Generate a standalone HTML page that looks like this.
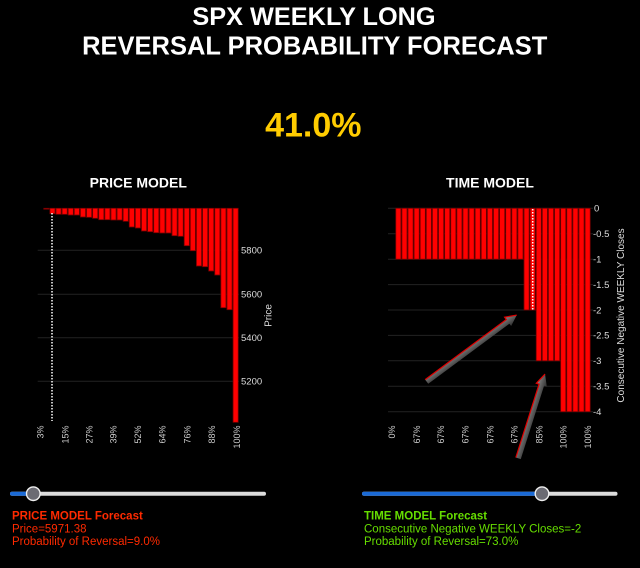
<!DOCTYPE html>
<html><head><meta charset="utf-8"><style>
html,body{margin:0;padding:0;background:#000;}
svg{display:block;}
text{font-family:"Liberation Sans",Arial,sans-serif;}
</style></head><body>
<svg width="640" height="568" viewBox="0 0 640 568" xmlns="http://www.w3.org/2000/svg">
<defs>
<linearGradient id="ag" x1="0" y1="0" x2="0" y2="1">
<stop offset="0" stop-color="#8a8a8a"/><stop offset="1" stop-color="#2e2e2e"/>
</linearGradient>
</defs>
<rect width="640" height="568" fill="#000"/>
<!-- Titles -->
<text x="314" y="25" font-size="25.3" font-weight="bold" fill="#fff" text-anchor="middle">SPX WEEKLY LONG</text>
<text x="314.7" y="54.3" font-size="25.5" font-weight="bold" fill="#fff" text-anchor="middle">REVERSAL PROBABILITY FORECAST</text>
<text x="313.3" y="136.7" font-size="34" font-weight="bold" fill="#ffcc00" text-anchor="middle">41.0%</text>
<text x="138.3" y="187.3" font-size="14" font-weight="bold" fill="#fff" text-anchor="middle">PRICE MODEL</text>
<text x="490" y="187.3" font-size="14" font-weight="bold" fill="#fff" text-anchor="middle">TIME MODEL</text>

<!-- PRICE chart gridlines -->
<g stroke="#222" stroke-width="1">
<line x1="37.7" y1="250.3" x2="239" y2="250.3"/>
<line x1="37.7" y1="294.3" x2="239" y2="294.3"/>
<line x1="37.7" y1="337.7" x2="239" y2="337.7"/>
<line x1="37.7" y1="381.3" x2="239" y2="381.3"/>
</g>
<g fill="#ff0000" stroke="#7a0000" stroke-width="0.8">
<rect x="43.8" y="208.3" width="5.1" height="0.9"/>
<rect x="49.91" y="208.3" width="5.1" height="5.4"/>
<rect x="56.01" y="208.3" width="5.1" height="6"/>
<rect x="62.12" y="208.3" width="5.1" height="6"/>
<rect x="68.22" y="208.3" width="5.1" height="6.7"/>
<rect x="74.33" y="208.3" width="5.1" height="6.7"/>
<rect x="80.44" y="208.3" width="5.1" height="8.7"/>
<rect x="86.54" y="208.3" width="5.1" height="9"/>
<rect x="92.65" y="208.3" width="5.1" height="10"/>
<rect x="98.75" y="208.3" width="5.1" height="11.4"/>
<rect x="104.86" y="208.3" width="5.1" height="11.4"/>
<rect x="110.97" y="208.3" width="5.1" height="11.7"/>
<rect x="117.07" y="208.3" width="5.1" height="11.7"/>
<rect x="123.18" y="208.3" width="5.1" height="13"/>
<rect x="129.28" y="208.3" width="5.1" height="18.7"/>
<rect x="135.39" y="208.3" width="5.1" height="19.7"/>
<rect x="141.5" y="208.3" width="5.1" height="22.7"/>
<rect x="147.6" y="208.3" width="5.1" height="23.4"/>
<rect x="153.71" y="208.3" width="5.1" height="24.4"/>
<rect x="159.81" y="208.3" width="5.1" height="24.7"/>
<rect x="165.92" y="208.3" width="5.1" height="24.7"/>
<rect x="172.03" y="208.3" width="5.1" height="27.4"/>
<rect x="178.13" y="208.3" width="5.1" height="28"/>
<rect x="184.24" y="208.3" width="5.1" height="37.4"/>
<rect x="190.34" y="208.3" width="5.1" height="42.4"/>
<rect x="196.45" y="208.3" width="5.1" height="57.7"/>
<rect x="202.56" y="208.3" width="5.1" height="58.4"/>
<rect x="208.66" y="208.3" width="5.1" height="62.7"/>
<rect x="214.77" y="208.3" width="5.1" height="66.7"/>
<rect x="220.87" y="208.3" width="5.1" height="99.4"/>
<rect x="226.98" y="208.3" width="5.1" height="101.4"/>
<rect x="233.09" y="208.3" width="5.1" height="214"/>
</g>
<line x1="52" y1="213" x2="52" y2="421" stroke="#fff" stroke-width="1.5" stroke-dasharray="1.5,1.5"/>
<g font-size="9.5" fill="#ddd">
<text x="241" y="253.6">5800</text>
<text x="241" y="297.6">5600</text>
<text x="241" y="341">5400</text>
<text x="241" y="384.6">5200</text>
</g>
<text transform="translate(271.5,315.5) rotate(-90)" font-size="10" fill="#ddd" text-anchor="middle">Price</text>
<g font-size="9" fill="#ccc" text-anchor="end">
<text transform="translate(43.3,425.5) rotate(-90)">3%</text>
<text transform="translate(68.3,425.5) rotate(-90)">15%</text>
<text transform="translate(92.6,425.5) rotate(-90)">27%</text>
<text transform="translate(116.6,425.5) rotate(-90)">39%</text>
<text transform="translate(141,425.5) rotate(-90)">52%</text>
<text transform="translate(165.6,425.5) rotate(-90)">64%</text>
<text transform="translate(190.6,425.5) rotate(-90)">76%</text>
<text transform="translate(215,425.5) rotate(-90)">88%</text>
<text transform="translate(240,425.5) rotate(-90)">100%</text>
</g>

<!-- TIME chart gridlines -->
<g stroke="#222" stroke-width="1">
<line x1="388" y1="208.3" x2="593" y2="208.3"/>
<line x1="388" y1="233.7" x2="593" y2="233.7"/>
<line x1="388" y1="259.2" x2="593" y2="259.2"/>
<line x1="388" y1="284.6" x2="593" y2="284.6"/>
<line x1="388" y1="310" x2="593" y2="310"/>
<line x1="388" y1="335.4" x2="593" y2="335.4"/>
<line x1="388" y1="360.8" x2="593" y2="360.8"/>
<line x1="388" y1="386.2" x2="593" y2="386.2"/>
<line x1="388" y1="411.7" x2="593" y2="411.7"/>
</g>
<g fill="#ff0000" stroke="#7a0000" stroke-width="0.8">
<rect x="395.8" y="208.3" width="5.1" height="50.9"/>
<rect x="401.91" y="208.3" width="5.1" height="50.9"/>
<rect x="408.01" y="208.3" width="5.1" height="50.9"/>
<rect x="414.12" y="208.3" width="5.1" height="50.9"/>
<rect x="420.22" y="208.3" width="5.1" height="50.9"/>
<rect x="426.33" y="208.3" width="5.1" height="50.9"/>
<rect x="432.44" y="208.3" width="5.1" height="50.9"/>
<rect x="438.54" y="208.3" width="5.1" height="50.9"/>
<rect x="444.65" y="208.3" width="5.1" height="50.9"/>
<rect x="450.75" y="208.3" width="5.1" height="50.9"/>
<rect x="456.86" y="208.3" width="5.1" height="50.9"/>
<rect x="462.97" y="208.3" width="5.1" height="50.9"/>
<rect x="469.07" y="208.3" width="5.1" height="50.9"/>
<rect x="475.18" y="208.3" width="5.1" height="50.9"/>
<rect x="481.28" y="208.3" width="5.1" height="50.9"/>
<rect x="487.39" y="208.3" width="5.1" height="50.9"/>
<rect x="493.5" y="208.3" width="5.1" height="50.9"/>
<rect x="499.6" y="208.3" width="5.1" height="50.9"/>
<rect x="505.71" y="208.3" width="5.1" height="50.9"/>
<rect x="511.81" y="208.3" width="5.1" height="50.9"/>
<rect x="517.92" y="208.3" width="5.1" height="50.9"/>
<rect x="524.03" y="208.3" width="5.1" height="101.7"/>
<rect x="530.13" y="208.3" width="5.1" height="101.7"/>
<rect x="536.24" y="208.3" width="5.1" height="152.5"/>
<rect x="542.34" y="208.3" width="5.1" height="152.5"/>
<rect x="548.45" y="208.3" width="5.1" height="152.5"/>
<rect x="554.56" y="208.3" width="5.1" height="152.5"/>
<rect x="560.66" y="208.3" width="5.1" height="203.4"/>
<rect x="566.77" y="208.3" width="5.1" height="203.4"/>
<rect x="572.87" y="208.3" width="5.1" height="203.4"/>
<rect x="578.98" y="208.3" width="5.1" height="203.4"/>
<rect x="585.09" y="208.3" width="5.1" height="203.4"/>
</g>
<line x1="532.7" y1="209" x2="532.7" y2="310" stroke="#fff" stroke-width="1.5" stroke-dasharray="1.5,1.5"/>
<g font-size="9.5" fill="#ddd">
<text x="594" y="211.6">0</text>
<text x="593" y="237">-0.5</text>
<text x="593" y="262.5">-1</text>
<text x="593" y="287.9">-1.5</text>
<text x="593" y="313.3">-2</text>
<text x="593" y="338.7">-2.5</text>
<text x="593" y="364.1">-3</text>
<text x="593" y="389.5">-3.5</text>
<text x="593" y="415">-4</text>
</g>
<text transform="translate(624,315.5) rotate(-90)" font-size="10" fill="#ddd" text-anchor="middle">Consecutive Negative WEEKLY Closes</text>
<g font-size="9" fill="#ccc" text-anchor="end">
<text transform="translate(395,425.5) rotate(-90)">0%</text>
<text transform="translate(420,425.5) rotate(-90)">67%</text>
<text transform="translate(444,425.5) rotate(-90)">67%</text>
<text transform="translate(468.3,425.5) rotate(-90)">67%</text>
<text transform="translate(493.3,425.5) rotate(-90)">67%</text>
<text transform="translate(517.6,425.5) rotate(-90)">67%</text>
<text transform="translate(542.3,425.5) rotate(-90)">85%</text>
<text transform="translate(566.6,425.5) rotate(-90)">100%</text>
<text transform="translate(591,425.5) rotate(-90)">100%</text>
</g>

<!-- Arrows -->
<g transform="translate(426.7,381.7) rotate(-36.5)">
<polygon points="0,-2.6 101,-2.6 101,-5.5 112,0 101,5.5 101,2.6 0,2.6" fill="url(#ag)"/>
<polyline points="0,-2.6 101,-2.6 101,-5.5 112,0" fill="none" stroke="#e00000" stroke-width="1.2"/>
</g>
<g transform="translate(518.3,458.3) rotate(-72.4)">
<polygon points="0,-2.6 77,-2.6 77,-5.5 88.4,0 77,5.5 77,2.6 0,2.6" fill="url(#ag)"/>
<polyline points="0,-2.6 77,-2.6 77,-5.5 88.4,0" fill="none" stroke="#e00000" stroke-width="1.2"/>
</g>

<!-- Sliders -->
<line x1="12" y1="493.7" x2="264" y2="493.7" stroke="#dcdcdc" stroke-width="4" stroke-linecap="round"/>
<line x1="12" y1="493.7" x2="33" y2="493.7" stroke="#1a6ad6" stroke-width="4" stroke-linecap="round"/>
<circle cx="33.3" cy="493.7" r="6.8" fill="#6b6b73" stroke="#eeeeee" stroke-width="1.4"/>

<line x1="364" y1="493.7" x2="615.5" y2="493.7" stroke="#dcdcdc" stroke-width="4" stroke-linecap="round"/>
<line x1="364" y1="493.7" x2="542" y2="493.7" stroke="#1a6ad6" stroke-width="4" stroke-linecap="round"/>
<circle cx="542" cy="493.7" r="6.8" fill="#6b6b73" stroke="#eeeeee" stroke-width="1.4"/>

<!-- Forecast text -->
<g font-size="11.5" fill="#ff2a00">
<text x="12" y="519.3" font-weight="bold">PRICE MODEL Forecast</text>
<text x="12" y="532.5">Price=5971.38</text>
<text x="12" y="544.8">Probability of Reversal=9.0%</text>
</g>
<g font-size="11.5" fill="#66dd00">
<text x="364" y="519.3" font-weight="bold">TIME MODEL Forecast</text>
<text x="364" y="532.5">Consecutive Negative WEEKLY Closes=-2</text>
<text x="364" y="544.8">Probability of Reversal=73.0%</text>
</g>
</svg>
</body></html>
